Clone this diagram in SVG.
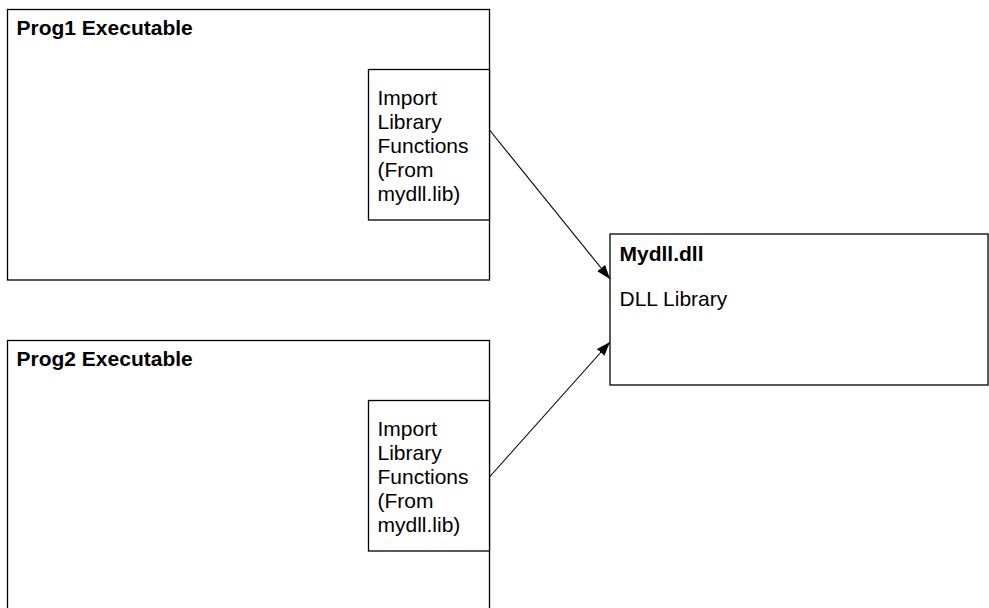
<svg xmlns="http://www.w3.org/2000/svg" width="989" height="608" viewBox="0 0 989 608">
<style>
.box{fill:#fff;stroke:#000;stroke-width:1.3}
.t{font-family:"Liberation Sans",Arial,sans-serif;font-size:21px;fill:#000}
.b{font-weight:bold}
.c{stroke:#000;stroke-width:1.1;fill:none}
</style>
<defs>
<marker id="ah" viewBox="0 0 14 10" refX="14" refY="5" markerWidth="14" markerHeight="10" markerUnits="userSpaceOnUse" orient="auto">
<path d="M0,0 L14,5 L0,10 Z" fill="#000"/>
</marker>
</defs>
<rect width="989" height="608" fill="#fff"/>
<g id="prog1">
<rect class="box" x="7.5" y="9.5" width="482" height="270.5"/>
<text class="t b" x="16.5" y="35">Prog1 Executable</text>
</g>
<g id="imp1">
<rect class="box" x="368.5" y="69.5" width="121" height="150.5"/>
<text class="t" x="377.5" y="105">Import</text>
<text class="t" x="377.5" y="129">Library</text>
<text class="t" x="377.5" y="153">Functions</text>
<text class="t" x="377.5" y="177">(From</text>
<text class="t" x="377.5" y="201">mydll.lib)</text>
</g>
<g id="prog2">
<rect class="box" x="7.5" y="340.5" width="482" height="280"/>
<text class="t b" x="16.5" y="366">Prog2 Executable</text>
</g>
<g id="imp2">
<rect class="box" x="368.5" y="400.5" width="121" height="150.5"/>
<text class="t" x="377.5" y="436">Import</text>
<text class="t" x="377.5" y="460">Library</text>
<text class="t" x="377.5" y="484">Functions</text>
<text class="t" x="377.5" y="508">(From</text>
<text class="t" x="377.5" y="532">mydll.lib)</text>
</g>
<g id="mydll">
<rect class="box" x="610" y="234" width="378" height="151"/>
<text class="t b" x="619.5" y="261">Mydll.dll</text>
<text class="t" x="619.5" y="306">DLL Library</text>
</g>
<g id="connectors">
<line class="c" x1="489.5" y1="130" x2="610" y2="279" marker-end="url(#ah)"/>
<line class="c" x1="489.5" y1="477" x2="610" y2="342" marker-end="url(#ah)"/>
</g>
</svg>
